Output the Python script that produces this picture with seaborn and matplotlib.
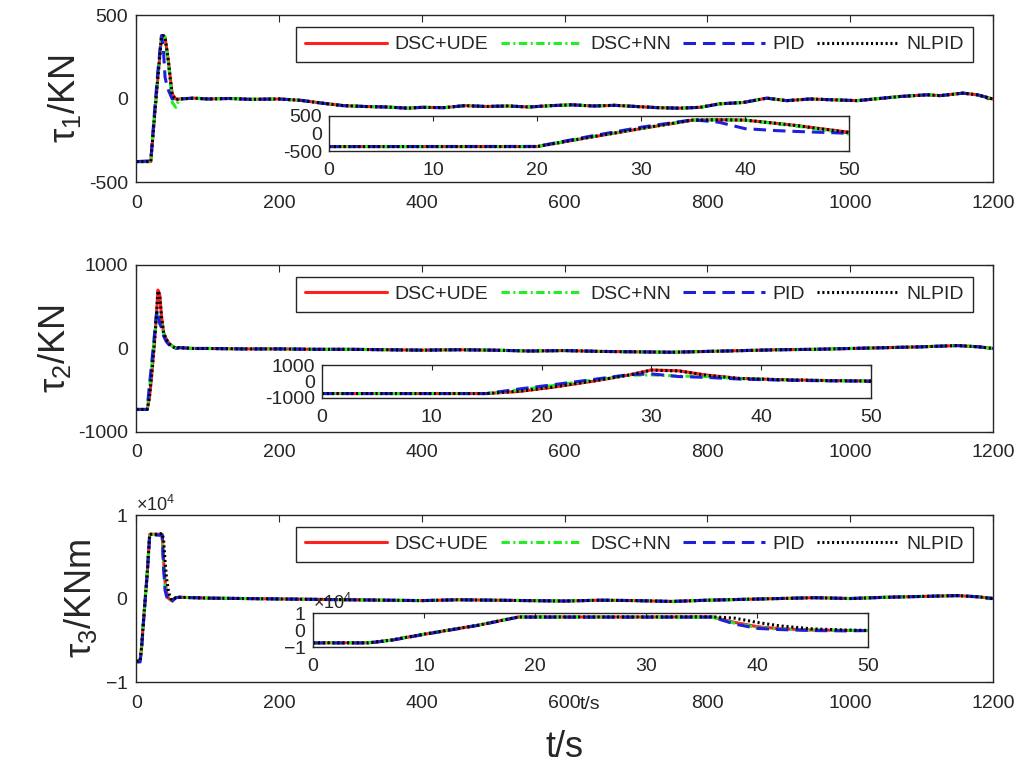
import pandas as pd
import seaborn as sns
import matplotlib.pyplot as plt
from matplotlib.ticker import ScalarFormatter

sns.set_style('white')
plt.rcParams['font.family'] = ['Liberation Sans', 'DejaVu Sans']
plt.rcParams['mathtext.fontset'] = 'custom'
plt.rcParams['mathtext.rm'] = 'Liberation Sans'
plt.rcParams['mathtext.it'] = 'Liberation Sans'
plt.rcParams['lines.scale_dashes'] = False
plt.rcParams['axes.unicode_minus'] = False

methods = ['DSC+UDE', 'DSC+NN', 'PID', 'NLPID']

# ---- tau1: first 55 s per controller, then a common tail ----
t1_head = [0, 20, 25, 30, 35, 37.5, 40, 43, 45, 47, 50, 55]
tau1_ude = [-375, -375, -120, 130, 370, 380, 370, 280, 217, 140, 30, 0]
tau1_nn = [-375, -375, -110, 140, 375, 380, 370, 270, 200, 120, -20, -50]
tau1_pid = [-375, -370, -90, 170, 380, 310, 130, 75, 50, 30, 0, 5]
tau1_nlpid = [-375, -375, -115, 135, 372, 380, 372, 278, 215, 135, 25, -5]
t1_tail = [60, 80, 100, 130, 160, 200, 230, 260, 290, 320, 350, 380, 400, 430,
           460, 490, 520, 550, 580, 610, 640, 670, 700, 730, 760, 790, 817, 850,
           883, 911, 944, 976, 1010, 1046, 1070, 1108, 1126, 1158, 1178, 1200]
tau1_tail = [0, 5, 0, 3, -2, 0, -8, -25, -40, -45, -48, -55, -50, -52,
             -40, -45, -42, -48, -40, -35, -42, -38, -45, -52, -55, -50, -29, -21,
             5, -10, 0, -5, -10, 5, 15, 25, 20, 35, 25, 0]

# ---- tau2 ----
t2_head = [0, 15, 18, 21, 25, 28, 30, 32.5, 35, 38, 42, 46, 50, 55]
tau2_ude = [-730, -730, -600, -350, 50, 400, 700, 650, 390, 190, 110, 60, 30, 5]
tau2_nn = [-730, -730, -500, -250, 120, 380, 400, 330, 300, 180, 100, 50, 30, 0]
tau2_pid = [-730, -730, -450, -200, 150, 420, 460, 300, 250, 150, 80, 40, 20, 0]
tau2_nlpid = [-730, -730, -590, -340, 60, 400, 690, 640, 380, 185, 105, 55, 25, 0]
t2_tail = [60, 80, 100, 150, 200, 250, 300, 350, 400, 450, 500, 550, 600, 650,
           700, 750, 800, 850, 900, 950, 1000, 1050, 1100, 1150, 1180, 1200]
tau2_tail = [10, 0, 0, -5, -5, -10, -10, -15, -20, -15, -20, -30, -25, -35,
             -40, -45, -35, -25, -15, -10, 0, 10, 20, 35, 20, 0]

# ---- tau3 ----
t3_head = [0, 5, 7, 10, 15, 18.5, 30, 36, 38, 40, 42, 45, 48, 50, 55]
tau3_ude = [-7500, -7500, -6000, -2500, 3000, 7700, 7700, 7700, 4500, 2000, 800, 0, -200, -300, 100]
tau3_nn = [-7500, -7500, -6000, -2400, 3100, 7700, 7600, 7500, 4000, 1500, 500, 0, -200, -200, 100]
tau3_pid = [-7600, -7600, -6100, -2600, 2900, 7600, 7600, 7600, 3500, 1000, 300, -300, -500, -300, 100]
tau3_nlpid = [-7500, -7500, -5900, -2400, 3000, 7700, 7700, 7800, 7000, 4500, 2500, 700, 0, -200, 100]
t3_tail = [60, 80, 100, 150, 200, 250, 300, 350, 400, 450, 500, 550, 600, 650,
           700, 750, 800, 850, 900, 950, 1000, 1050, 1100, 1150, 1180, 1200]
tau3_tail = [150, 100, 50, 0, -50, -100, -150, -200, -250, -150, -200, -250, -300, -200,
             -250, -350, -200, -100, 0, 100, 0, 150, 250, 350, 200, 0]

styles = {
    'DSC+UDE': dict(color='#ff2020', linestyle='-'),
    'DSC+NN': dict(color='#22ee22', linestyle=(0, (6, 2.5, 1.5, 2.5))),
    'PID': dict(color='#1f1fdd', linestyle=(0, (9, 5))),
    'NLPID': dict(color='black', linestyle=(0, (1.5, 2))),
}

panels = [
    dict(head_t=t1_head, heads=[tau1_ude, tau1_nn, tau1_pid, tau1_nlpid],
         tail_t=t1_tail, tail=tau1_tail, ylim=(-500, 500), yticks=[-500, 0, 500],
         ylabel=r'$\tau_1$/KN',
         pos=[0.1333, 0.7621, 0.8364, 0.2177], ipos=[0.3213, 0.8031, 0.5078, 0.0463]),
    dict(head_t=t2_head, heads=[tau2_ude, tau2_nn, tau2_pid, tau2_nlpid],
         tail_t=t2_tail, tail=tau2_tail, ylim=(-1000, 1000), yticks=[-1000, 0, 1000],
         ylabel=r'$\tau_2$/KN',
         pos=[0.1333, 0.4368, 0.8364, 0.2177], ipos=[0.3145, 0.4811, 0.5361, 0.0430]),
    dict(head_t=t3_head, heads=[tau3_ude, tau3_nn, tau3_pid, tau3_nlpid],
         tail_t=t3_tail, tail=tau3_tail, ylim=(-10000, 10000), yticks=[-10000, 0, 10000],
         ylabel=r'$\tau_3$/KNm',
         pos=[0.1333, 0.1108, 0.8364, 0.2177], ipos=[0.3057, 0.1564, 0.5420, 0.0443]),
]

fig = plt.figure(figsize=(10.24, 7.67), dpi=100)
ink = '#262626'

for k, p in enumerate(panels):
    ax = fig.add_axes(p['pos'])
    ins = fig.add_axes(p['ipos'])
    for name, head in zip(methods, p['heads']):
        df = pd.DataFrame({'t': p['head_t'] + p['tail_t'], 'v': head + p['tail']})
        sns.lineplot(data=df, x='t', y='v', ax=ax, lw=2.2, label=name,
                     estimator=None, errorbar=None, **styles[name])
        sns.lineplot(data=df, x='t', y='v', ax=ins, lw=2.2,
                     estimator=None, errorbar=None, **styles[name])

    ax.set_xlim(0, 1200)
    ax.set_xticks(range(0, 1201, 200))
    ax.set_ylim(*p['ylim'])
    ax.set_yticks(p['yticks'])
    ax.set_xlabel('')
    ax.set_ylabel(p['ylabel'], fontsize=26, color=ink, labelpad=4)
    ax.tick_params(direction='in', top=True, right=True, length=5, width=0.8,
                   colors=ink, labelsize=14)
    ax.tick_params(axis='x', pad=9)
    ax.tick_params(axis='y', pad=6)

    ins.set_xlim(0, 50)
    ins.set_xticks(range(0, 51, 10))
    ins.set_ylim(*p['ylim'])
    ins.set_yticks(p['yticks'])
    ins.set_ylabel('')
    ins.set_xlabel('')
    ins.tick_params(direction='in', top=True, right=True, length=3.5, width=0.8,
                    colors=ink, labelsize=14)
    ins.tick_params(axis='x', pad=8)
    ins.tick_params(axis='y', pad=5)

    for a in (ax, ins):
        for s in a.spines.values():
            s.set_color(ink)
            s.set_linewidth(1.0)

    if k == 2:
        for a in (ax, ins):
            fmt = ScalarFormatter(useMathText=True)
            fmt.set_powerlimits((-3, 3))
            a.yaxis.set_major_formatter(fmt)
            a.yaxis.get_offset_text().set_fontsize(13)
            a.yaxis.get_offset_text().set_color(ink)
        ax.set_xlabel('t/s', fontsize=26, color=ink, labelpad=13)
        ins.set_xlabel('t/s', fontsize=14, color=ink, labelpad=15)

    handles, labels = ax.get_legend_handles_labels()
    leg = ax.legend(handles, labels, ncol=4, loc='upper right',
                    bbox_to_anchor=(0.9767, 0.931), borderaxespad=0,
                    fontsize=14, handlelength=4.2, handletextpad=0.4,
                    columnspacing=0.63, borderpad=0.45, fancybox=False,
                    framealpha=1, edgecolor=ink)
    leg.get_frame().set_linewidth(1.0)

fig.savefig('out.png', dpi=100)
